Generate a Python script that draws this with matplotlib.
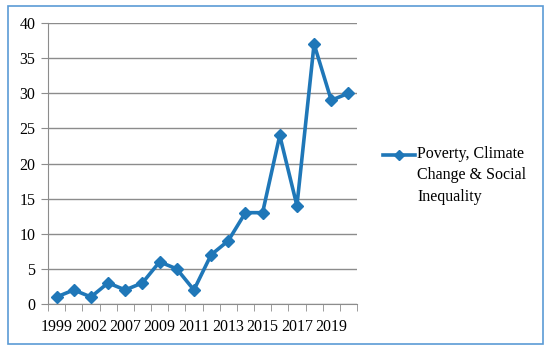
import matplotlib
matplotlib.use("Agg")
import matplotlib.pyplot as plt
from matplotlib.patches import Rectangle
from matplotlib.lines import Line2D

years = ["1999", "2000", "2002", "2005", "2007", "2008", "2009", "2010", "2011",
         "2012", "2013", "2014", "2015", "2016", "2017", "2018", "2019", "2020"]
values = [1, 2, 1, 3, 2, 3, 6, 5, 2, 7, 9, 13, 13, 24, 14, 37, 29, 30]
series_name = "Poverty, Climate\nChange & Social\nInequality"
yticks = [0, 5, 10, 15, 20, 25, 30, 35, 40]

plt.rcParams['font.family'] = ['Liberation Serif', 'DejaVu Serif']
color = '#1f77b8'

fig = plt.figure(figsize=(5.5, 3.54), dpi=100)
W, H = 550, 354
ax = fig.add_axes([48 / W, 1 - 304 / H, (357 - 48) / W, (304 - 23) / H])

x = list(range(len(values)))
ax.plot(x, values, color=color, lw=2.6, marker='D', ms=6.5, zorder=3, clip_on=False)

ax.set_xlim(-0.5, len(values) - 0.5)
ax.set_ylim(0, 40)
ax.set_yticks(yticks)
ax.set_yticklabels([str(v) for v in yticks])
ax.yaxis.grid(True, color='#8c8c8c', lw=1.0)
ax.set_axisbelow(True)

ax.set_xticks([i for i in x if i % 2 == 0])
ax.set_xticklabels([years[i] for i in x if i % 2 == 0])
ax.set_xticks([i - 0.5 for i in range(len(values) + 1)], minor=True)
ax.tick_params(axis='x', which='major', length=0, pad=11, labelsize=11.5)
ax.tick_params(axis='x', which='minor', length=5, color='#8c8c8c', direction='out')
ax.tick_params(axis='y', length=5, color='#8c8c8c', labelsize=11.5, pad=4)

for s in ['top', 'right']:
    ax.spines[s].set_visible(False)
for s in ['left', 'bottom']:
    ax.spines[s].set_color('#8c8c8c')

# legend (handle aligned with first text line, as in the reference)
fig.add_artist(Line2D([383 / W, 415 / W], [1 - 155 / H, 1 - 155 / H],
                      transform=fig.transFigure, color=color, lw=2.6))
fig.add_artist(Line2D([399 / W], [1 - 155 / H], transform=fig.transFigure,
                      color=color, marker='D', ms=5.5, lw=0))
fig.text(417 / W, 1 - 146 / H, series_name, ha='left', va='top',
         fontsize=11.5, linespacing=1.45)

# outer border
fig.patches.append(Rectangle((8 / W, 1 - 344 / H), (543 - 8) / W, (344 - 6) / H,
                             transform=fig.transFigure, fill=False,
                             edgecolor='#5b9bd5', lw=1.2))

fig.savefig('out.png', dpi=100)
